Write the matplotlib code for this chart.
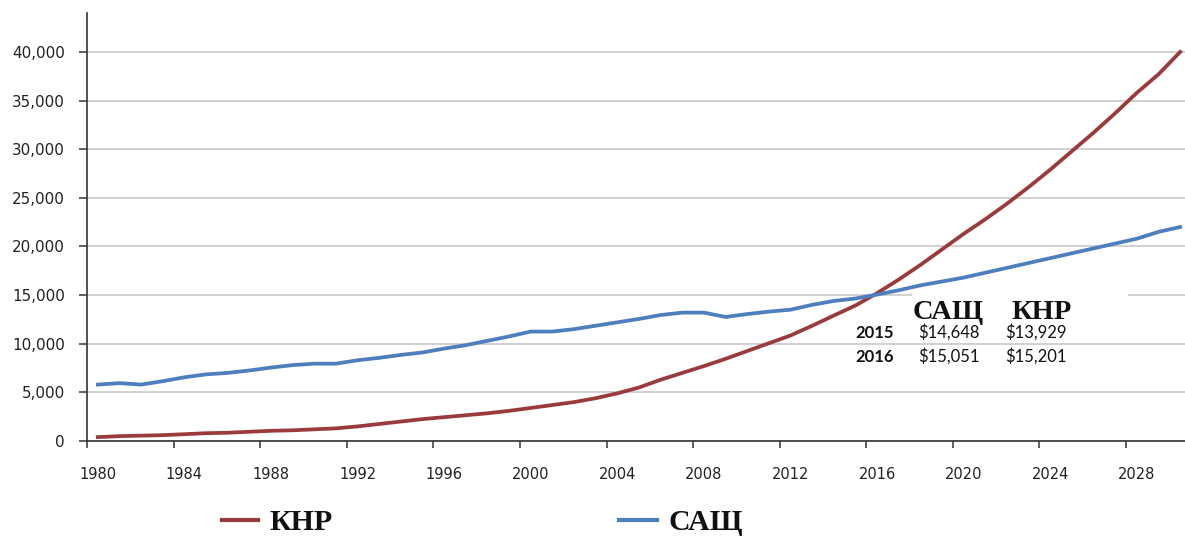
import matplotlib
matplotlib.use('Agg')
import matplotlib.pyplot as plt
from matplotlib.patches import Rectangle
from matplotlib.lines import Line2D
import numpy as np

# ---------------- data ----------------
years = list(range(1980, 2031))
china = [400, 500, 550, 600, 700, 800, 850, 950, 1050, 1100,
         1200, 1300, 1500, 1750, 2000, 2250, 2450, 2650, 2850, 3100,
         3400, 3700, 4000, 4400, 4900, 5500, 6300, 7000, 7700, 8450,
         9250, 10050, 10850, 11850, 12900, 13929, 15201, 16600, 18100, 19700,
         21300, 22800, 24400, 26100, 27900, 29800, 31700, 33700, 35800, 37700,
         40000]
usa = [5800, 5950, 5800, 6150, 6550, 6850, 7000, 7250, 7550, 7800,
       7950, 7950, 8300, 8550, 8850, 9100, 9500, 9850, 10300, 10750,
       11250, 11250, 11500, 11850, 12200, 12550, 12950, 13200, 13200, 12750,
       13050, 13300, 13500, 14000, 14400, 14648, 15051, 15500, 16000, 16400,
       16800, 17300, 17800, 18300, 18800, 19300, 19800, 20300, 20800, 21500,
       22000]
y_ticks = [0, 5000, 10000, 15000, 20000, 25000, 30000, 35000, 40000]
x_label_years = list(range(1980, 2029, 4))
series_names = ['КНР', 'САЩ']
table_header = ['САЩ', 'КНР']
table_years = ['2015', '2016']
table_usa = ['$14,648', '$15,051']
table_china = ['$13,929', '$15,201']

RED = '#9A3A3C'
BLUE = '#4D7EBD'

W, H = 1185, 536
fig = plt.figure(figsize=(W / 100, H / 100), dpi=100)
fig.patch.set_facecolor('white')

def fx(px):
    return px / W

def fy(py):
    return 1 - py / H

ax = fig.add_axes([fx(87), fy(441), fx(1191) - fx(87), fy(13) - fy(441)])
ax.set_facecolor('white')

ax.plot(years, china, color=RED, lw=2.7, zorder=4, solid_joinstyle='round')
ax.plot(years, usa, color=BLUE, lw=2.7, zorder=4, solid_joinstyle='round')

ax.set_xlim(1979.5, 2030.5)
ax.set_ylim(0, 44000)

ax.set_yticks(y_ticks)
ax.set_yticklabels([f'{v:,}' for v in y_ticks])
ax.yaxis.grid(True, color='#C4C4C4', lw=1.1, zorder=0)
ax.set_axisbelow(True)

ax.set_xticks(np.arange(1979.5, 2029, 4))
ax.set_xticklabels([])
ax.set_xticks(x_label_years, minor=True)
ax.set_xticklabels([str(y) for y in x_label_years], minor=True)

ax.tick_params(axis='y', which='major', direction='out', length=6, width=1.1,
               color='#333333', pad=10, labelsize=10.9, labelcolor='#222222')
ax.tick_params(axis='x', which='major', direction='out', length=5, width=1.1,
               color='#333333')
ax.tick_params(axis='x', which='minor', length=0, pad=18.5, labelsize=10.5,
               labelcolor='#222222')

for s in ['top', 'right']:
    ax.spines[s].set_visible(False)
for s in ['left', 'bottom']:
    ax.spines[s].set_color('#333333')
    ax.spines[s].set_linewidth(1.2)

# white box behind table header (interrupts the 15,000 gridline)
ax.add_patch(Rectangle((2017.6, 12300), 10.0, 3050, facecolor='white',
                       edgecolor='none', zorder=1))

serif = ['Liberation Serif', 'DejaVu Serif']
sans = ['Lato', 'DejaVu Sans']

# table header
fig.text(fx(913), fy(319), table_header[0], family=serif, weight='bold',
         fontsize=20.5, ha='left', va='baseline', color='#111111')
fig.text(fx(1012), fy(319), table_header[1], family=serif, weight='bold',
         fontsize=20.5, ha='left', va='baseline', color='#111111')

row_base = [338, 362]
for i in range(2):
    fig.text(fx(855), fy(row_base[i]), table_years[i], family=sans, weight='bold',
             fontsize=12, ha='left', va='baseline', color='#111111')
    fig.text(fx(918), fy(row_base[i]), table_usa[i], family=sans,
             fontsize=12, ha='left', va='baseline', color='#111111')
    fig.text(fx(1005), fy(row_base[i]), table_china[i], family=sans,
             fontsize=12, ha='left', va='baseline', color='#111111')

# legend
fig.add_artist(Line2D([fx(222), fx(258)], [fy(520), fy(520)], color=RED, lw=3,
                      transform=fig.transFigure))
fig.text(fx(270), fy(530), series_names[0], family=serif, weight='bold',
         fontsize=21.5, ha='left', va='baseline', color='#111111')
fig.add_artist(Line2D([fx(619), fx(657)], [fy(520), fy(520)], color=BLUE, lw=3,
                      transform=fig.transFigure))
fig.text(fx(668), fy(530), series_names[1], family=serif, weight='bold',
         fontsize=21.5, ha='left', va='baseline', color='#111111')

fig.savefig('out.png', dpi=100, facecolor='white')
